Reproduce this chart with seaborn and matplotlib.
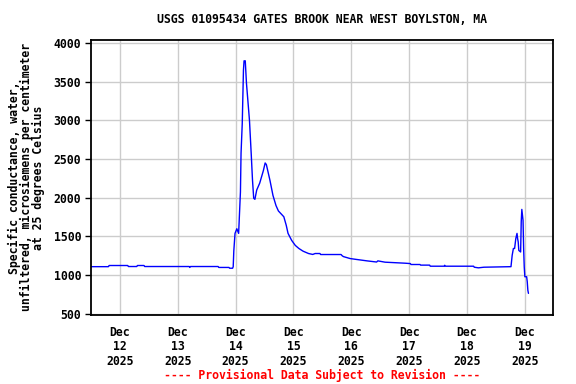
import seaborn as sns
import matplotlib.pyplot as plt
import pandas as pd

# Gates Brook specific conductance
times = [
    "2025-12-11 12:00", "2025-12-11 19:15", "2025-12-11 19:30", "2025-12-12 03:15",
    "2025-12-12 03:30", "2025-12-12 07:00", "2025-12-12 07:15", "2025-12-12 10:00",
    "2025-12-12 10:15", "2025-12-13 04:45", "2025-12-13 05:00", "2025-12-13 05:15",
    "2025-12-13 16:45", "2025-12-13 17:00", "2025-12-13 21:15", "2025-12-13 21:30",
    "2025-12-13 22:45", "2025-12-13 23:00", "2025-12-13 23:15", "2025-12-13 23:45",
    "2025-12-14 00:30", "2025-12-14 01:15", "2025-12-14 02:00", "2025-12-14 02:15",
    "2025-12-14 02:45", "2025-12-14 03:15", "2025-12-14 03:30", "2025-12-14 04:00",
    "2025-12-14 04:30", "2025-12-14 05:45", "2025-12-14 06:30", "2025-12-14 07:00",
    "2025-12-14 07:30", "2025-12-14 08:00", "2025-12-14 08:45", "2025-12-14 10:00",
    "2025-12-14 11:30", "2025-12-14 12:15", "2025-12-14 12:45", "2025-12-14 14:15",
    "2025-12-14 15:30", "2025-12-14 16:45", "2025-12-14 17:45", "2025-12-14 20:00",
    "2025-12-14 21:00", "2025-12-14 21:45", "2025-12-14 23:15", "2025-12-15 00:45",
    "2025-12-15 02:15", "2025-12-15 04:00", "2025-12-15 06:15", "2025-12-15 08:00",
    "2025-12-15 09:00", "2025-12-15 11:00", "2025-12-15 11:15", "2025-12-15 19:45",
    "2025-12-15 20:15", "2025-12-15 20:45", "2025-12-15 23:30", "2025-12-16 01:45",
    "2025-12-16 06:30", "2025-12-16 10:30", "2025-12-16 11:00", "2025-12-16 14:00",
    "2025-12-16 22:15", "2025-12-17 00:30", "2025-12-17 00:45", "2025-12-17 04:30",
    "2025-12-17 04:45", "2025-12-17 08:30", "2025-12-17 08:45", "2025-12-17 14:30",
    "2025-12-17 14:45", "2025-12-17 15:00", "2025-12-18 02:45", "2025-12-18 03:00",
    "2025-12-18 04:45", "2025-12-18 07:00", "2025-12-18 18:15", "2025-12-18 18:45",
    "2025-12-18 19:15", "2025-12-18 19:45", "2025-12-18 20:15", "2025-12-18 20:45",
    "2025-12-18 21:00", "2025-12-18 21:15", "2025-12-18 21:30", "2025-12-18 22:15",
    "2025-12-18 22:30", "2025-12-18 22:45", "2025-12-18 23:15", "2025-12-18 23:30",
    "2025-12-18 23:45", "2025-12-19 00:00", "2025-12-19 00:45", "2025-12-19 01:00",
    "2025-12-19 01:15", "2025-12-19 01:30",
]
values = [
    1110, 1110, 1125, 1125,
    1112, 1112, 1125, 1125,
    1112, 1112, 1100, 1112,
    1112, 1100, 1100, 1090,
    1090, 1110, 1314, 1540,
    1600, 1540, 2076, 2575,
    2960, 3650, 3770, 3770,
    3480, 3000, 2550, 2230,
    1995, 1980, 2100, 2190,
    2350, 2450, 2430, 2225,
    2030, 1900, 1830, 1755,
    1645, 1540, 1450, 1385,
    1345, 1310, 1280, 1268,
    1280, 1280, 1267, 1267,
    1250, 1240, 1215, 1205,
    1185, 1170, 1185, 1168,
    1155, 1150, 1138, 1138,
    1130, 1130, 1116, 1116,
    1128, 1116, 1116, 1103,
    1095, 1103, 1110, 1258,
    1345, 1345, 1473, 1540,
    1473, 1430, 1320, 1300,
    1690, 1850, 1710, 1345,
    1107, 980, 980, 915,
    805, 765,
]

tick_days = ["2025-12-12", "2025-12-13", "2025-12-14", "2025-12-15",
             "2025-12-16", "2025-12-17", "2025-12-18", "2025-12-19"]
y_ticks = [500, 1000, 1500, 2000, 2500, 3000, 3500, 4000]

df = pd.DataFrame({"time": pd.to_datetime(times), "value": values})

sns.set_style("white")
plt.rcParams['font.family'] = ['DejaVu Sans Mono']
plt.rcParams['font.weight'] = 'bold'
plt.rcParams['text.color'] = 'black'
plt.rcParams['axes.labelcolor'] = 'black'
plt.rcParams['xtick.color'] = 'black'
plt.rcParams['ytick.color'] = 'black'

fig = plt.figure(figsize=(5.76, 3.84), dpi=100)
ax = fig.add_axes([0.158, 0.180, 0.802, 0.716])

sns.lineplot(data=df, x="time", y="value", color="#0000ff", linewidth=1.0, ax=ax)

ax.set_xlim(pd.Timestamp("2025-12-11 12:00"), pd.Timestamp("2025-12-19 11:40"))
ax.set_ylim(487, 4040)

xt = pd.to_datetime(tick_days)
ax.set_xticks(xt)
ax.set_xticklabels([d.strftime("%b\n%d\n%Y") for d in xt], fontsize=8.3,
                   fontweight='bold', linespacing=1.15)
ax.set_yticks(y_ticks)
ax.set_yticklabels([str(v) for v in y_ticks], fontsize=8.3, fontweight='bold')

ax.grid(True, color="#cccccc", linewidth=1.0)
ax.set_axisbelow(True)
ax.tick_params(axis='x', length=0, pad=8)
ax.tick_params(axis='y', length=4, width=1, color='black', direction='out', left=True, pad=3)
for s in ax.spines.values():
    s.set_color('black')
    s.set_linewidth(1.3)

ax.set_xlabel("")
ax.set_ylabel("Specific conductance, water,\nunfiltered, microsiemens per centimeter\nat 25 degrees Celsius",
              fontsize=8.3, fontweight='bold', linespacing=0.92, labelpad=6)

fig.text(0.559, 0.948, "USGS 01095434 GATES BROOK NEAR WEST BOYLSTON, MA",
         ha='center', va='center', fontsize=8.3, fontweight='bold')
fig.text(0.559, 0.023, "---- Provisional Data Subject to Revision ----",
         ha='center', va='center', fontsize=8.3, fontweight='bold', color='red')

plt.savefig("out.png", dpi=100)
